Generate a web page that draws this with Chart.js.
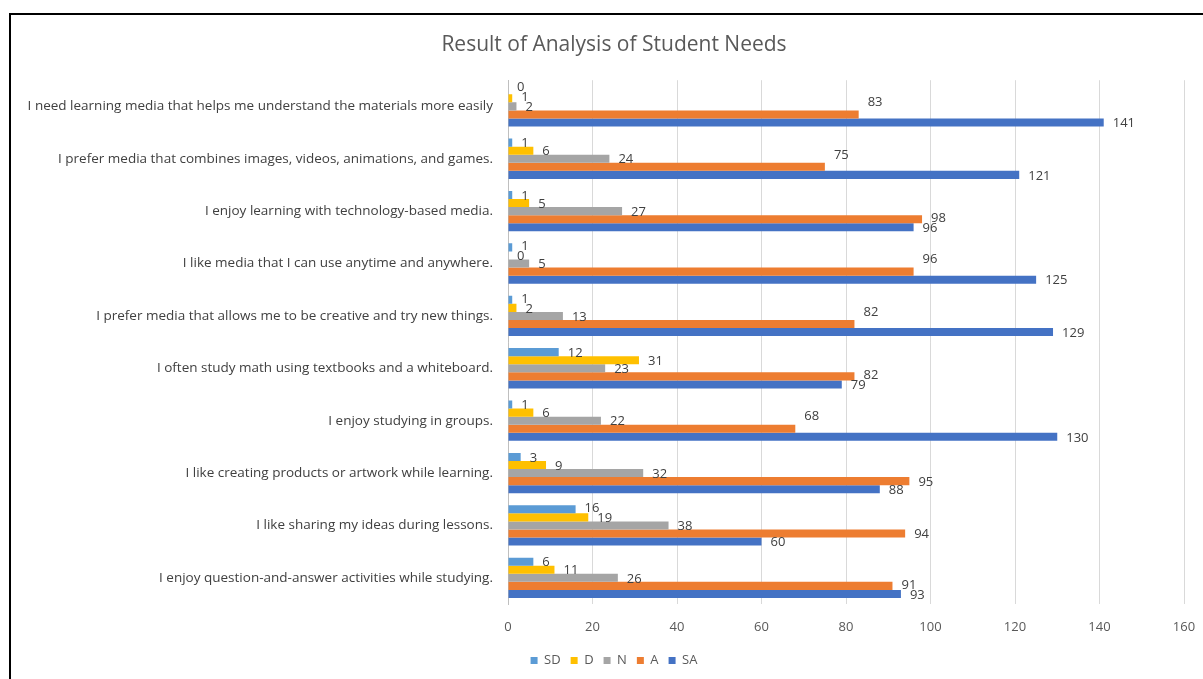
<!DOCTYPE html>
<html>
<head>
<meta charset="utf-8">
<title>Result of Analysis of Student Needs</title>
<script src="https://cdn.jsdelivr.net/npm/chart.js@4.4.1/dist/chart.umd.min.js"></script>
<style>
    html, body { margin: 0; padding: 0; background: #fff; width: 1203px; height: 679px; overflow: hidden; }
    #frame { position: absolute; left: 9px; top: 13px; width: 1230px; height: 700px; border-left: 2px solid #000; border-top: 2px solid #000; }
    #wrap { position: absolute; left: 11px; top: 15px; width: 1206px; height: 664px; }
</style>
</head>
<body>
<div id="frame"></div>
<div id="wrap"><canvas id="myChart" width="1206" height="664"></canvas></div>
<script>
    const statements = [
        "I need learning media that helps me understand the materials more easily",
        "I prefer media that combines images, videos, animations, and games.",
        "I enjoy learning with technology-based media.",
        "I like media that I can use anytime and anywhere.",
        "I prefer media that allows me to be creative and try new things.",
        "I often study math using textbooks and a whiteboard.",
        "I enjoy studying in groups.",
        "I like creating products or artwork while learning.",
        "I like sharing my ideas during lessons.",
        "I enjoy question-and-answer activities while studying."
    ];
    const sd = [0, 1, 1, 1, 1, 12, 1, 3, 16, 6];
    const d  = [1, 6, 5, 0, 2, 31, 6, 9, 19, 11];
    const n  = [2, 24, 27, 5, 13, 23, 22, 32, 38, 26];
    const a  = [83, 75, 98, 96, 82, 82, 68, 95, 94, 91];
    const sa = [141, 121, 96, 125, 129, 79, 130, 88, 60, 93];
    const xTicks = [0, 20, 40, 60, 80, 100, 120, 140, 160];

    const fontFamily = "'Open Sans', 'Noto Sans', sans-serif";

    // value labels next to bar ends, nudged up when they would collide
    const barLabels = {
        id: 'barLabels',
        afterDatasetsDraw(chart) {
            const ctx = chart.ctx;
            ctx.save();
            ctx.font = "13px " + fontFamily;
            ctx.fillStyle = '#404040';
            ctx.textAlign = 'left';
            ctx.textBaseline = 'middle';
            const count = chart.data.labels.length;
            const last = chart.data.datasets.length - 1;
            for (let i = 0; i < count; i++) {
                let placed = [];
                for (let ds = last; ds >= 0; ds--) {
                    const el = chart.getDatasetMeta(ds).data[i];
                    const txt = String(chart.data.datasets[ds].data[i]);
                    const w = ctx.measureText(txt).width;
                    let x = el.x + 9;
                    let y = el.y + 1;
                    // A label sits above when the SA bar runs past it
                    if (ds === last - 1) {
                        const next = chart.getDatasetMeta(last).data[i];
                        if (next.x > x) y -= 13;
                    }
                    let moved = true;
                    while (moved) {
                        moved = false;
                        for (const p of placed) {
                            if (x < p.x + p.w && x + w > p.x && Math.abs(y - p.y) < 10) {
                                y = p.y - 10;
                                moved = true;
                            }
                        }
                    }
                    placed.push({x: x, y: y, w: w});
                    ctx.fillText(txt, x, y);
                }
            }
            ctx.restore();
        }
    };

    const data = {
        labels: statements,
        datasets: [
            { label: 'SD', data: sd, backgroundColor: '#5B9BD5' },
            { label: 'D',  data: d,  backgroundColor: '#FFC000' },
            { label: 'N',  data: n,  backgroundColor: '#A5A5A5' },
            { label: 'A',  data: a,  backgroundColor: '#ED7D31' },
            { label: 'SA', data: sa, backgroundColor: '#4472C4' }
        ]
    };

    const ctx = document.getElementById('myChart').getContext('2d');
    const myChart = new Chart(ctx, {
        type: 'bar',
        data: data,
        plugins: [barLabels],
        options: {
            indexAxis: 'y',
            responsive: false,
            animation: false,
            categoryPercentage: 0.77,
            barPercentage: 1.0,
            layout: { padding: { left: 33, right: 33, top: 0, bottom: 2 } },
            plugins: {
                title: {
                    display: true,
                    text: 'Result of Analysis of Student Needs',
                    color: '#595959',
                    font: { family: fontFamily, size: 21, weight: 'normal' },
                    padding: { top: 17, bottom: 23 }
                },
                legend: {
                    position: 'bottom',
                    labels: {
                        color: '#595959',
                        font: { family: fontFamily, size: 13 },
                        boxWidth: 7,
                        boxHeight: 7,
                        padding: 10
                    }
                },
                tooltip: { enabled: false }
            },
            scales: {
                x: {
                    min: 0,
                    max: 160,
                    afterBuildTicks: function (scale) {
                        scale.ticks = xTicks.map(v => ({ value: v }));
                    },
                    afterFit: function (scale) { scale.height = 40; },
                    grid: { color: '#D9D9D9', drawTicks: false },
                    border: { display: false },
                    ticks: {
                        color: '#595959',
                        padding: 15,
                        font: { family: fontFamily, size: 13 }
                    }
                },
                y: {
                    afterFit: function (scale) {
                        scale.width = 464;
                        // long labels may run into the left padding, don't clip them
                        scale._computeLabelArea = function () { return undefined; };
                    },
                    grid: { display: false, drawTicks: false },
                    border: { color: '#BFBFBF' },
                    ticks: {
                        color: '#404040',
                        padding: 15,
                        font: { family: fontFamily, size: 13.5 }
                    }
                }
            }
        }
    });
</script>
</body>
</html>
